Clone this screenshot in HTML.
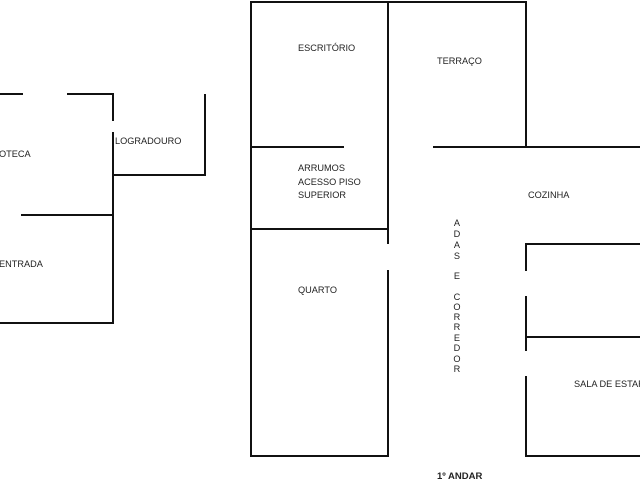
<!DOCTYPE html>
<html><head><meta charset="utf-8"><style>
html,body{margin:0;padding:0;background:#fff;width:640px;height:480px;overflow:hidden}
svg text{font-family:"Liberation Sans",sans-serif;font-size:9.2px;fill:#222}
</style></head><body>
<svg width="640" height="480" viewBox="0 0 640 480" xmlns="http://www.w3.org/2000/svg">
<g stroke="#111" stroke-width="2" fill="none" stroke-linecap="square">
<line x1="0" y1="94" x2="22" y2="94"/>
<line x1="68" y1="94" x2="113" y2="94"/>
<line x1="113" y1="94" x2="113" y2="120"/>
<line x1="113" y1="133" x2="113" y2="323"/>
<line x1="113" y1="175" x2="205" y2="175"/>
<line x1="205" y1="95" x2="205" y2="175"/>
<line x1="22" y1="215" x2="113" y2="215"/>
<line x1="0" y1="323" x2="113" y2="323"/>
<line x1="251" y1="2" x2="526" y2="2"/>
<line x1="251" y1="2" x2="251" y2="456"/>
<line x1="251" y1="456" x2="388" y2="456"/>
<line x1="388" y1="2" x2="388" y2="243"/>
<line x1="388" y1="271" x2="388" y2="456"/>
<line x1="526" y1="2" x2="526" y2="147"/>
<line x1="251" y1="147" x2="343" y2="147"/>
<line x1="434" y1="147" x2="640" y2="147"/>
<line x1="251" y1="229" x2="388" y2="229"/>
<line x1="526" y1="244" x2="640" y2="244"/>
<line x1="526" y1="244" x2="526" y2="270"/>
<line x1="526" y1="297" x2="526" y2="350"/>
<line x1="526" y1="377" x2="526" y2="456"/>
<line x1="526" y1="337" x2="640" y2="337"/>
<line x1="526" y1="456" x2="640" y2="456"/>
</g>
<text x="-1" y="157">OTECA</text>
<text x="115" y="144">LOGRADOURO</text>
<text x="-1" y="267">ENTRADA</text>
<text x="298" y="51">ESCRITÓRIO</text>
<text x="437" y="64">TERRAÇO</text>
<text x="298" y="171">ARRUMOS</text>
<text x="298" y="185">ACESSO PISO</text>
<text x="298" y="198">SUPERIOR</text>
<text x="528" y="198">COZINHA</text>
<text x="298" y="293">QUARTO</text>
<text x="574" y="387">SALA DE ESTAR E</text>
<g style="font-size:6.5px" text-anchor="middle">
<text x="457" y="226">A</text><text x="457" y="237">D</text><text x="457" y="248">A</text><text x="457" y="259">S</text>
<text x="457" y="279">E</text>
<text x="457" y="300">C</text><text x="457" y="310">O</text><text x="457" y="320">R</text><text x="457" y="330">R</text>
<text x="457" y="341">E</text><text x="457" y="351">D</text><text x="457" y="362">O</text><text x="457" y="372">R</text>
</g>
<text x="437" y="479" style="font-weight:bold;font-size:9.5px">1º ANDAR</text>
</svg>
</body></html>
